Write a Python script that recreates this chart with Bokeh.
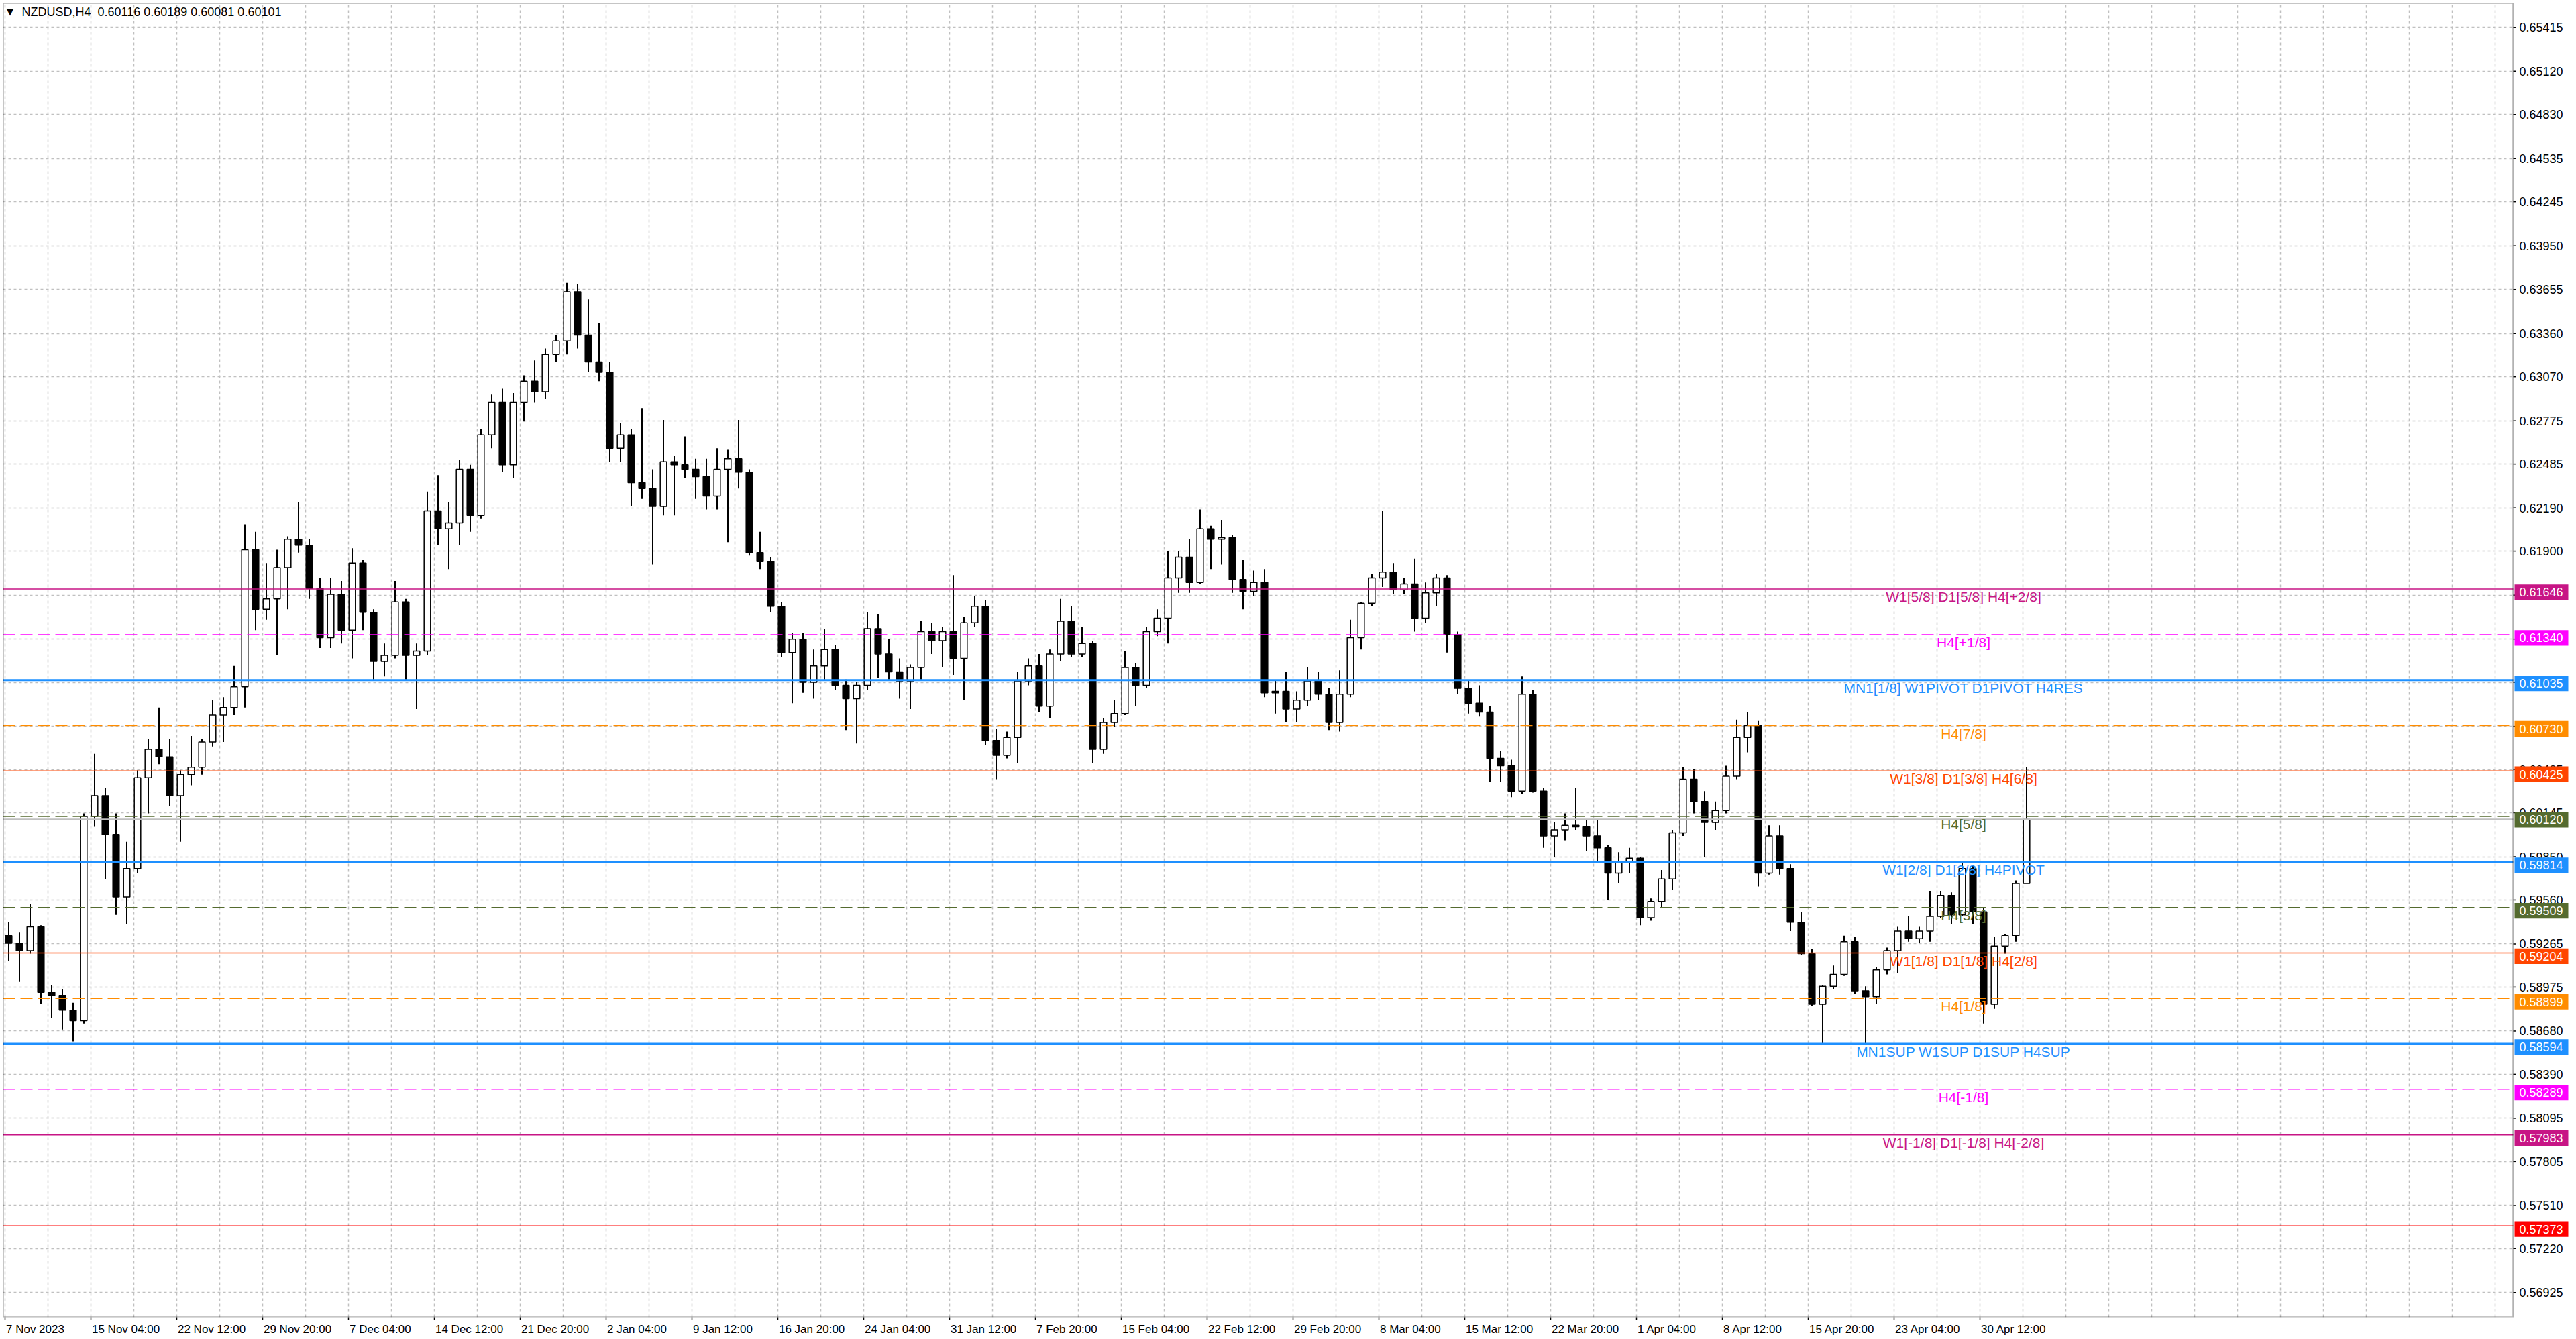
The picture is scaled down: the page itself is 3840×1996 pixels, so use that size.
from bokeh.plotting import figure
from bokeh.models import (ColumnDataSource, Label, BoxAnnotation, FixedTicker,
                          PrintfTickFormatter, Range1d)
from bokeh.core.properties import value
from bokeh.embed import file_html
from bokeh.resources import INLINE

symbol = "NZDUSD,H4"
last_ohlc = ["0.60116", "0.60189", "0.60081", "0.60101"]
last_bid = 0.60101

# H4 bars, merged four at a time; prices in 1/10000
bars_per_candle = 4
opens = [
    5932, 5927, 5922, 5938, 5894, 5892, 5882, 5875, 6012, 6026,
    6000, 5958, 5977, 6038, 6057, 6052, 6026, 6040, 6045, 6062,
    6080, 6085, 6099, 6191, 6151, 6158, 6179, 6198, 6194, 6165,
    6132, 6161, 6137, 6182, 6149, 6116, 6120, 6156, 6120, 6123,
    6217, 6205, 6209, 6245, 6214, 6268, 6290, 6248, 6290, 6304,
    6297, 6322, 6331, 6364, 6335, 6317, 6310, 6259, 6268, 6236,
    6232, 6220, 6250, 6248, 6245, 6240, 6227, 6245, 6252, 6243,
    6189, 6183, 6153, 6122, 6131, 6102, 6113, 6124, 6100, 6091,
    6100, 6138, 6121, 6109, 6103, 6112, 6136, 6130, 6136, 6118,
    6142, 6153, 6063, 6053, 6065, 6103, 6113, 6086, 6121, 6143,
    6121, 6128, 6057, 6075, 6081, 6112, 6100, 6136, 6145, 6172,
    6186, 6169, 6205, 6198, 6199, 6171, 6163, 6169, 6095, 6096,
    6084, 6090, 6103, 6094, 6075, 6094, 6132, 6155, 6172, 6176,
    6164, 6168, 6145, 6162, 6172, 6134, 6098, 6088, 6082, 6051,
    6046, 6029, 6094, 6029, 5999, 6003, 6006, 6005, 5999, 5991,
    5974, 5982, 5984, 5944, 5955, 5970, 6001, 6037, 6022, 6008,
    6016, 6039, 6065, 6073, 5974, 5999, 5977, 5941, 5920, 5886,
    5898, 5906, 5928, 5895, 5891, 5909, 5922, 5935, 5930, 5935,
    5945, 5959, 5946, 5977, 5948, 5886, 5925, 5932, 5967,
]
highs = [
    5941, 5934, 5953, 5939, 5899, 5896, 5887, 6014, 6054, 6031,
    6014, 5995, 6043, 6064, 6085, 6064, 6043, 6066, 6064, 6090,
    6092, 6113, 6208, 6203, 6182, 6191, 6200, 6223, 6198, 6172,
    6172, 6170, 6192, 6184, 6151, 6128, 6170, 6158, 6128, 6230,
    6241, 6223, 6251, 6248, 6272, 6295, 6299, 6296, 6308, 6318,
    6326, 6335, 6370, 6369, 6359, 6343, 6317, 6276, 6272, 6286,
    6245, 6278, 6254, 6267, 6252, 6252, 6259, 6258, 6278, 6245,
    6203, 6186, 6156, 6135, 6135, 6124, 6138, 6127, 6104, 6102,
    6149, 6148, 6131, 6118, 6114, 6143, 6142, 6139, 6174, 6146,
    6160, 6157, 6071, 6069, 6109, 6118, 6121, 6124, 6158, 6153,
    6139, 6130, 6078, 6090, 6123, 6115, 6139, 6151, 6190, 6190,
    6198, 6218, 6207, 6211, 6201, 6184, 6177, 6178, 6103, 6109,
    6096, 6112, 6109, 6098, 6110, 6144, 6156, 6175, 6217, 6182,
    6172, 6185, 6169, 6175, 6174, 6136, 6103, 6100, 6086, 6056,
    6050, 6106, 6097, 6031, 6008, 6014, 6031, 6010, 6010, 5993,
    5988, 5991, 5985, 5957, 5976, 6003, 6045, 6044, 6029, 6022,
    6046, 6077, 6082, 6076, 6006, 6006, 5980, 5948, 5923, 5899,
    5912, 5932, 5931, 5898, 5911, 5924, 5938, 5945, 5938, 5962,
    5962, 5961, 5982, 5979, 5951, 5931, 5933, 5969, 6045,
]
lows = [
    5915, 5901, 5920, 5886, 5877, 5869, 5861, 5873, 6005, 5970,
    5946, 5940, 5974, 6014, 6047, 6019, 5995, 6033, 6040, 6059,
    6062, 6080, 6085, 6137, 6144, 6120, 6151, 6189, 6158, 6125,
    6125, 6128, 6118, 6137, 6104, 6106, 6118, 6104, 6084, 6120,
    6194, 6178, 6194, 6203, 6212, 6259, 6243, 6239, 6277, 6290,
    6292, 6317, 6322, 6326, 6310, 6304, 6250, 6250, 6220, 6225,
    6181, 6214, 6214, 6239, 6225, 6218, 6218, 6196, 6232, 6187,
    6178, 6149, 6119, 6088, 6095, 6091, 6104, 6097, 6070, 6061,
    6097, 6105, 6104, 6091, 6084, 6104, 6121, 6112, 6107, 6090,
    6139, 6060, 6037, 6051, 6048, 6100, 6082, 6078, 6116, 6119,
    6119, 6048, 6054, 6072, 6080, 6086, 6098, 6133, 6128, 6162,
    6162, 6168, 6178, 6181, 6162, 6151, 6160, 6092, 6081, 6075,
    6075, 6086, 6090, 6070, 6069, 6092, 6124, 6153, 6166, 6161,
    6161, 6136, 6142, 6153, 6122, 6094, 6081, 6079, 6035, 6035,
    6025, 6027, 6028, 5991, 5985, 5996, 6003, 5989, 5982, 5956,
    5967, 5974, 5939, 5942, 5951, 5963, 5999, 6014, 5985, 6003,
    6014, 6037, 6055, 5965, 5973, 5973, 5935, 5919, 5885, 5859,
    5896, 5905, 5893, 5859, 5886, 5906, 5907, 5928, 5927, 5928,
    5944, 5940, 5945, 5940, 5873, 5883, 5920, 5928, 5967,
]
closes = [
    5927, 5922, 5938, 5894, 5892, 5882, 5875, 6012, 6026, 6000,
    5958, 5977, 6038, 6057, 6052, 6026, 6040, 6045, 6062, 6080,
    6085, 6099, 6191, 6151, 6158, 6179, 6198, 6194, 6165, 6132,
    6161, 6137, 6182, 6149, 6116, 6120, 6156, 6120, 6123, 6217,
    6205, 6209, 6245, 6214, 6268, 6290, 6248, 6290, 6304, 6297,
    6322, 6331, 6364, 6335, 6317, 6310, 6259, 6268, 6236, 6232,
    6220, 6250, 6248, 6245, 6240, 6227, 6245, 6252, 6243, 6189,
    6183, 6153, 6122, 6131, 6102, 6113, 6124, 6100, 6091, 6100,
    6138, 6121, 6109, 6103, 6112, 6136, 6130, 6136, 6118, 6142,
    6153, 6063, 6053, 6065, 6103, 6113, 6086, 6121, 6143, 6121,
    6128, 6057, 6075, 6081, 6112, 6100, 6136, 6145, 6172, 6186,
    6169, 6205, 6198, 6199, 6171, 6163, 6169, 6095, 6096, 6084,
    6090, 6103, 6094, 6075, 6094, 6132, 6155, 6172, 6176, 6164,
    6168, 6145, 6162, 6172, 6134, 6098, 6088, 6082, 6051, 6046,
    6029, 6094, 6029, 5999, 6003, 6006, 6005, 5999, 5991, 5974,
    5982, 5984, 5944, 5955, 5970, 6001, 6037, 6022, 6008, 6016,
    6039, 6065, 6073, 5974, 5999, 5977, 5941, 5920, 5886, 5898,
    5906, 5928, 5895, 5891, 5909, 5922, 5935, 5930, 5935, 5945,
    5959, 5946, 5977, 5948, 5886, 5925, 5932, 5967, 6010,
]

# murrey / pivot levels drawn by the indicator
level_prices = [0.61646, 0.61340, 0.61035, 0.60730, 0.60425, 0.60120, 0.59814,
                0.59509, 0.59204, 0.58899, 0.58594, 0.58289, 0.57983, 0.57373]
level_names = ["W1[5/8] D1[5/8] H4[+2/8]", "H4[+1/8]", "MN1[1/8] W1PIVOT D1PIVOT H4RES",
               "H4[7/8]", "W1[3/8] D1[3/8] H4[6/8]", "H4[5/8]", "W1[2/8] D1[2/8] H4PIVOT",
               "H4[3/8]", "W1[1/8] D1[1/8] H4[2/8]", "H4[1/8]", "MN1SUP W1SUP D1SUP H4SUP",
               "H4[-1/8]", "W1[-1/8] D1[-1/8] H4[-2/8]", ""]

price_ticks = [0.65415, 0.65120, 0.64830, 0.64535, 0.64245, 0.63950, 0.63655, 0.63360,
               0.63070, 0.62775, 0.62485, 0.62190, 0.61900, 0.61605, 0.61310, 0.61020,
               0.60725, 0.60435, 0.60145, 0.59850, 0.59560, 0.59265, 0.58975, 0.58680,
               0.58390, 0.58095, 0.57805, 0.57510, 0.57220, 0.56925]
date_labels = ["7 Nov 2023", "15 Nov 04:00", "22 Nov 12:00", "29 Nov 20:00", "7 Dec 04:00",
               "14 Dec 12:00", "21 Dec 20:00", "2 Jan 04:00", "9 Jan 12:00", "16 Jan 20:00",
               "24 Jan 04:00", "31 Jan 12:00", "7 Feb 20:00", "15 Feb 04:00", "22 Feb 12:00",
               "29 Feb 20:00", "8 Mar 04:00", "15 Mar 12:00", "22 Mar 20:00", "1 Apr 04:00",
               "8 Apr 12:00", "15 Apr 20:00", "23 Apr 04:00", "30 Apr 12:00"]
bars_per_label = 32

# styles
level_colors = ["#C71585", "#FF00FF", "#1E90FF", "#FF8C00", "#FF4500", "#556B2F", "#1E90FF",
                "#556B2F", "#FF4500", "#FF8C00", "#1E90FF", "#FF00FF", "#C71585", "#FF0000"]
level_dash = ["solid", "18 8", "solid", "18 8", "solid", "18 8", "solid",
              "18 8", "solid", "18 8", "solid", "18 8", "solid", "solid"]
level_width = [1.5, 1.5, 3, 1.5, 1.5, 1.5, 2.5, 1.5, 1.5, 1.5, 3, 1.5, 1.5, 1.5]
FONT = "Liberation Sans"
label_bar = 730
PX_PER_BAR = 4

# chart area + price scale strip share one frame
CHART_W, STRIP_W, FH = 3742, 88, 1959
FW = CHART_W + STRIP_W
x0 = -0.625
xb = x0 + CHART_W / PX_PER_BAR          # chart border
x1 = x0 + FW / PX_PER_BAR
y0, y1 = 0.56760, 0.65578
ppu = FH / (y1 - y0)                    # pixels per price unit

# rough Arial advance widths, used to left-align the date labels on their ticks
ADV = {" ": 278, ":": 278, "N": 722, "o": 556, "v": 500, "D": 722, "e": 556, "c": 500,
       "J": 500, "a": 556, "n": 556, "F": 611, "b": 556, "M": 833, "r": 333, "A": 667,
       "p": 556}


def text_px(s, size):
    return sum(ADV.get(ch, 556) for ch in s) * size / 1000


n = len(closes)
o = [v / 10000 for v in opens]
h = [v / 10000 for v in highs]
l = [v / 10000 for v in lows]
c = [v / 10000 for v in closes]
src = ColumnDataSource(dict(
    x=[bars_per_candle * k + 1.5 for k in range(n)],
    high=h, low=l,
    top=[max(a, b) for a, b in zip(o, c)],
    bottom=[min(a, b) for a, b in zip(o, c)],
    fill=["white" if b >= a else "black" for a, b in zip(o, c)],
))

p = figure(frame_width=FW, frame_height=FH, x_range=Range1d(x0, x1), y_range=Range1d(y0, y1),
           y_axis_location="right", output_backend="svg", toolbar_location=None, tools="",
           min_border_left=4, min_border_top=4, min_border_right=2, min_border_bottom=28,
           background_fill_color="white", border_fill_color="white")
p.outline_line_color = None

# grid
p.xgrid.ticker = FixedTicker(ticks=list(range(0, int(xb), bars_per_label // 2)))
p.grid.grid_line_color = "#C0C0C0"
p.grid.grid_line_dash = "4 4"
p.grid.grid_line_width = 1.5
p.add_layout(BoxAnnotation(left=xb, fill_color="white", fill_alpha=1.0, line_color=None,
                           level="underlay"))

# price scale: labels pulled back into the strip
p.yaxis.ticker = FixedTicker(ticks=price_ticks)
p.yaxis.formatter = PrintfTickFormatter(format="%.5f")
p.yaxis.major_label_text_font = FONT
p.yaxis.major_label_text_font_size = "18px"
p.yaxis.major_label_text_color = "black"
p.yaxis.major_tick_out = 0
p.yaxis.major_tick_in = 0
p.yaxis.minor_tick_out = 0
p.yaxis.minor_tick_in = 0
p.yaxis.axis_line_color = None
p.yaxis.major_label_standoff = 3755 - (4 + FW)
p.segment(x0=[xb] * len(price_ticks), x1=[xb + 1] * len(price_ticks),
          y0=price_ticks, y1=price_ticks, line_color="black", line_width=1.5)

# time scale: minor ticks mark the bars, labels start right of them
date_ticks = [bars_per_label * i for i in range(len(date_labels))]
label_pos = [round(t + (2 + text_px(s, 17) / 2) / PX_PER_BAR, 3)
             for t, s in zip(date_ticks, date_labels)]
p.xaxis.ticker = FixedTicker(ticks=label_pos, minor_ticks=date_ticks)
p.xaxis.major_label_overrides = {pos: s for pos, s in zip(label_pos, date_labels)}
p.xaxis.major_label_text_font = FONT
p.xaxis.major_label_text_font_size = "17px"
p.xaxis.major_label_text_color = "black"
p.xaxis.major_tick_out = 0
p.xaxis.major_tick_in = 0
p.xaxis.minor_tick_out = 4
p.xaxis.minor_tick_in = 0
p.xaxis.minor_tick_line_width = 1.5
p.xaxis.major_label_standoff = 4
p.xaxis.axis_line_color = None

# chart border
p.add_layout(BoxAnnotation(right=xb, fill_color=None, line_color="black", line_width=2.5))

# candles
p.segment(x0="x", y0="high", x1="x", y1="low", source=src, line_color="black", line_width=2)
p.vbar(x="x", width=2.4, top="top", bottom="bottom", fill_color="fill",
       line_color="black", line_width=1.5, source=src)

# levels
for price, col, dash, w in zip(level_prices, level_colors, level_dash, level_width):
    p.segment(x0=[x0], x1=[xb], y0=[price], y1=[price], line_color=col,
              line_dash=dash, line_width=w)
p.segment(x0=[x0], x1=[xb], y0=[last_bid], y1=[last_bid], line_color="#C0C0C0", line_width=2)

names = [(pr, nm, col) for pr, nm, col in zip(level_prices, level_names, level_colors) if nm]
name_src = ColumnDataSource(dict(x=[label_bar] * len(names), y=[v[0] for v in names],
                                 text=[v[1] for v in names], color=[v[2] for v in names]))
p.text(x="x", y="y", text="text", text_color="color", source=name_src,
       text_align="center", text_baseline="top",
       text_font=value(FONT), text_font_size="21px")

# price tags on the right scale (box sits a little below its line, as in the terminal)
up_px, down_px = 6.7, 16.5
for price, col in zip(level_prices, level_colors):
    p.add_layout(BoxAnnotation(left=xb + 0.5, right=xb + 20.5, bottom=price - down_px / ppu,
                               top=price + up_px / ppu, fill_color=col, fill_alpha=1.0,
                               line_color=None))
    p.add_layout(Label(x=xb + 0.5, x_offset=7, y=price, y_offset=-(down_px - up_px) / 2,
                       text=f"{price:.5f}", text_color="white", text_font=FONT,
                       text_font_size="18px", text_baseline="middle"))

# symbol line in the top left corner
p.add_layout(Label(x=10.5, y=FH - 13, x_units="screen", y_units="screen", text="\u25bc",
                   text_font="DejaVu Sans", text_font_size="13px", text_align="center",
                   text_baseline="middle", text_color="black"))
p.add_layout(Label(x=28, y=FH - 13, x_units="screen", y_units="screen",
                   text=symbol + "\u00a0\u00a0" + " ".join(last_ohlc),
                   text_font=FONT, text_font_size="18px", text_baseline="middle",
                   text_color="black"))

open("out.html", "w").write(file_html(p, INLINE))
